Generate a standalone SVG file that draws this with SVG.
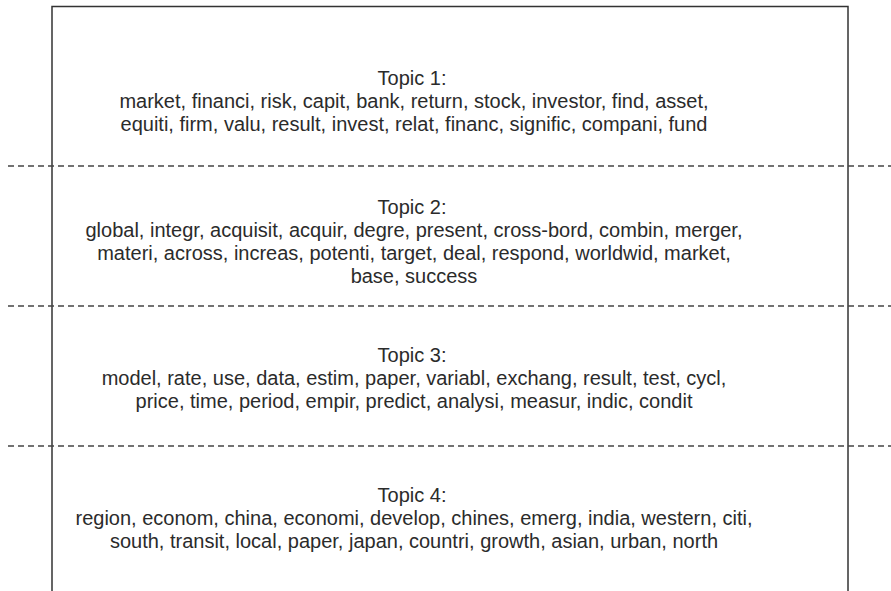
<svg xmlns="http://www.w3.org/2000/svg" width="891" height="591" viewBox="0 0 891 591">
<style>
.t{font-family:"Liberation Sans",Arial,sans-serif;font-size:20px;fill:#2b2b2b;text-anchor:middle}
.frame{fill:#fff;stroke:#333;stroke-width:1.5}
.sep{stroke:#444;stroke-width:1.3;stroke-dasharray:6 4;fill:none}
</style>
<rect x="0" y="0" width="891" height="591" fill="#fff"/>
<rect class="frame" x="52" y="6.5" width="796" height="620"/>
<g id="separators">
<line class="sep" x1="8" y1="166" x2="891" y2="166"/>
<line class="sep" x1="8" y1="306" x2="891" y2="306"/>
<line class="sep" x1="8" y1="446" x2="891" y2="446"/>
</g>
<g id="topic1">
<text class="t" x="412" y="85">Topic 1:</text>
<text class="t" x="414" y="108">market, financi, risk, capit, bank, return, stock, investor, find, asset,</text>
<text class="t" x="414" y="131">equiti, firm, valu, result, invest, relat, financ, signific, compani, fund</text>
</g>
<g id="topic2">
<text class="t" x="412" y="214">Topic 2:</text>
<text class="t" x="414" y="237">global, integr, acquisit, acquir, degre, present, cross-bord, combin, merger,</text>
<text class="t" x="414" y="260">materi, across, increas, potenti, target, deal, respond, worldwid, market,</text>
<text class="t" x="414" y="283">base, success</text>
</g>
<g id="topic3">
<text class="t" x="412" y="362">Topic 3:</text>
<text class="t" x="414" y="385">model, rate, use, data, estim, paper, variabl, exchang, result, test, cycl,</text>
<text class="t" x="414" y="408">price, time, period, empir, predict, analysi, measur, indic, condit</text>
</g>
<g id="topic4">
<text class="t" x="412" y="502">Topic 4:</text>
<text class="t" x="414" y="525">region, econom, china, economi, develop, chines, emerg, india, western, citi,</text>
<text class="t" x="414" y="548">south, transit, local, paper, japan, countri, growth, asian, urban, north</text>
</g>
</svg>
